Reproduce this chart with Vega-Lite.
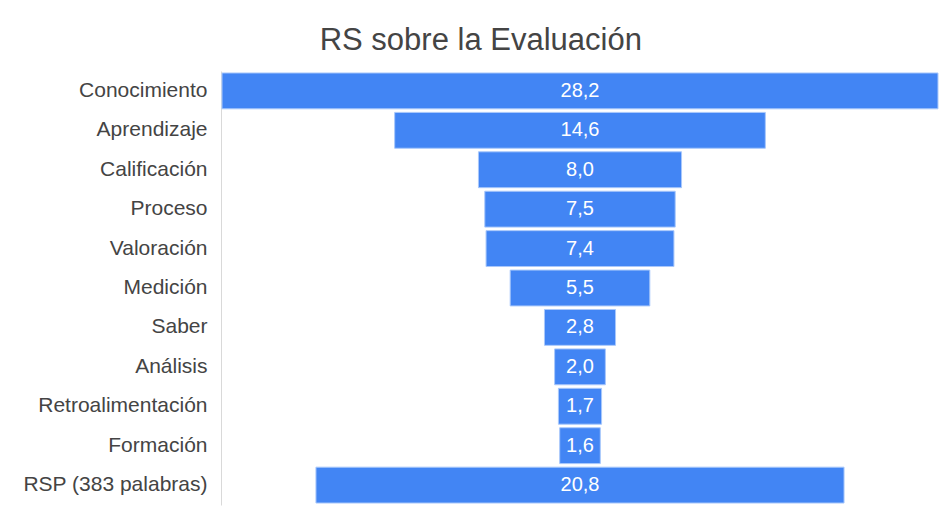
{
  "$schema": "https://vega.github.io/schema/vega-lite/v6.json",
  "autosize": "none",
  "width": 718,
  "height": 434,
  "padding": {"left": 221, "top": 71, "right": 7, "bottom": 9},
  "background": "white",
  "config": {
    "font": "Liberation Sans",
    "view": {"stroke": null},
    "locale": {"number": {"decimal": ",", "thousands": ".", "grouping": [3], "currency": ["", " €"]}}
  },
  "title": {
    "text": "RS sobre la Evaluación",
    "fontSize": 31,
    "fontWeight": "normal",
    "color": "#444444",
    "anchor": "middle",
    "frame": "bounds",
    "offset": 14
  },
  "data": {
    "values": [
      {"categoria": "Conocimiento", "valor": 28.2},
      {"categoria": "Aprendizaje", "valor": 14.6},
      {"categoria": "Calificación", "valor": 8.0},
      {"categoria": "Proceso", "valor": 7.5},
      {"categoria": "Valoración", "valor": 7.4},
      {"categoria": "Medición", "valor": 5.5},
      {"categoria": "Saber", "valor": 2.8},
      {"categoria": "Análisis", "valor": 2.0},
      {"categoria": "Retroalimentación", "valor": 1.7},
      {"categoria": "Formación", "valor": 1.6},
      {"categoria": "RSP (383 palabras)", "valor": 20.8}
    ]
  },
  "encoding": {
    "y": {
      "field": "categoria",
      "type": "nominal",
      "sort": null,
      "scale": {"paddingInner": 0.09, "paddingOuter": 0.05},
      "axis": {
        "title": null,
        "ticks": false,
        "labelFontSize": 21,
        "labelColor": "#444444",
        "labelPadding": 14,
        "labelLimit": 300,
        "domainColor": "#d9d9d9",
        "domainWidth": 1
      }
    }
  },
  "layer": [
    {
      "mark": {"type": "bar", "color": "#4285F4", "stroke": "#a9c8fb", "strokeWidth": 1},
      "encoding": {
        "x": {
          "field": "valor",
          "type": "quantitative",
          "stack": "center",
          "scale": {"domain": [-0.04, 28.24], "nice": false, "zero": false},
          "axis": null
        }
      }
    },
    {
      "mark": {"type": "text", "color": "white", "fontSize": 20, "align": "center", "baseline": "middle"},
      "encoding": {
        "x": {"datum": 14.1, "type": "quantitative"},
        "text": {"field": "valor", "type": "quantitative", "format": ".1f"}
      }
    }
  ]
}
